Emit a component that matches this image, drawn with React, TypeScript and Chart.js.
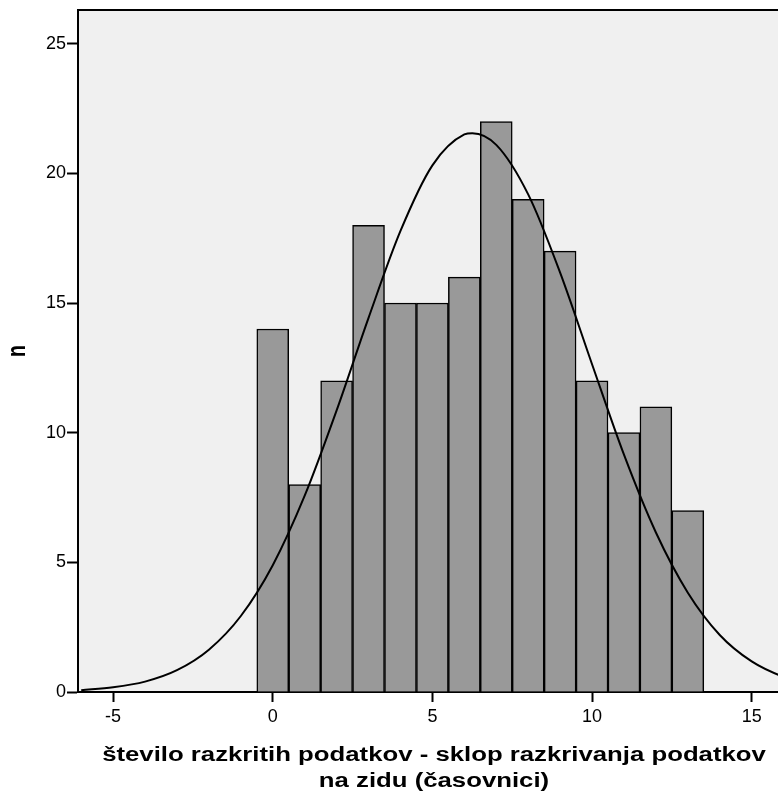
import React, { useEffect, useRef } from "react";
import { Chart, registerables } from "chart.js";

Chart.register(...registerables);

// Histogram bins (centres) and counts
const BIN_CENTERS = [0, 1, 2, 3, 4, 5, 6, 7, 8, 9, 10, 11, 12, 13];
const COUNTS = [14, 8, 12, 18, 15, 15, 16, 22, 19, 17, 12, 10, 11, 7];

// Normal curve overlay, sampled along the x axis
const CURVE_X = [-6, -5, -4, -3, -2, -1, 0, 1, 2, 3, 4, 5, 6, 6.25, 7, 8, 9, 10, 11, 12, 13, 14, 15, 16, 16.5];
const CURVE_Y = [0.07, 0.18, 0.4, 0.84, 1.63, 2.93, 4.89, 7.57, 10.86, 14.43, 17.78, 20.31, 21.5, 21.55, 21.1, 19.19, 16.17, 12.64, 9.15, 6.15, 3.83, 2.2, 1.18, 0.58, 0.4];

const X_TICKS = [-5, 0, 5, 10, 15];
const Y_TICKS = [0, 5, 10, 15, 20, 25];

const X_TITLE = ["število razkritih podatkov - sklop razkrivanja podatkov", "na zidu (časovnici)"];
const Y_TITLE = "n";

const FONT = "'Liberation Sans', Arial, Helvetica, sans-serif";
const TITLE_FONT = `bold 19.5px ${FONT}`;
const TITLE_STRETCH = 1.32; // axis titles are set wide

const plotFrame = {
  id: "plotFrame",
  beforeDraw(chart: any) {
    const { ctx, chartArea: a } = chart;
    ctx.save();
    ctx.fillStyle = "#f0f0f0";
    ctx.fillRect(a.left, a.top, a.right - a.left, a.bottom - a.top);
    ctx.restore();
  },
  afterDraw(chart: any) {
    const { ctx, chartArea: a } = chart;
    ctx.save();
    ctx.strokeStyle = "#000";
    ctx.lineWidth = 2;
    ctx.beginPath();
    ctx.moveTo(a.left - 1, a.top);
    ctx.lineTo(a.right, a.top);
    ctx.stroke();
    ctx.restore();

    // x-axis title, two centred lines under the tick labels
    const cx = (a.left + a.right) / 2;
    ctx.save();
    ctx.fillStyle = "#000";
    ctx.font = TITLE_FONT;
    ctx.textAlign = "center";
    ctx.textBaseline = "alphabetic";
    X_TITLE.forEach((line, i) => {
      ctx.save();
      ctx.translate(cx, a.bottom + 69 + i * 26);
      ctx.scale(TITLE_STRETCH, 1);
      ctx.fillText(line, 0, 0);
      ctx.restore();
    });
    ctx.restore();

    // y-axis title, rotated, centred on the plot height
    const cy = (a.top + a.bottom) / 2;
    ctx.save();
    ctx.fillStyle = "#000";
    ctx.font = TITLE_FONT;
    ctx.textAlign = "center";
    ctx.textBaseline = "middle";
    ctx.translate(18, cy);
    ctx.scale(TITLE_STRETCH, 1);
    ctx.rotate(-Math.PI / 2);
    ctx.fillText(Y_TITLE, 0, 0);
    ctx.restore();
  },
};

export default function App() {
  const ref = useRef<HTMLCanvasElement | null>(null);

  useEffect(() => {
    if (!ref.current) return;
    const chart = new Chart(ref.current, {
      type: "bar",
      data: {
        datasets: [
          {
            type: "line",
            data: CURVE_X.map((x, i) => ({ x, y: CURVE_Y[i] })),
            borderColor: "#000",
            borderWidth: 2,
            pointRadius: 0,
            cubicInterpolationMode: "monotone",
            fill: false,
            order: 0,
          } as any,
          {
            type: "bar",
            data: BIN_CENTERS.map((x, i) => ({ x, y: COUNTS[i] })),
            backgroundColor: "#999999",
            borderColor: "#000",
            borderWidth: 1.5,
            barPercentage: 1,
            categoryPercentage: 1,
            order: 1,
          } as any,
        ],
      },
      options: {
        animation: false,
        responsive: false,
        devicePixelRatio: 1,
        events: [],
        layout: { padding: { top: 10, left: 0, right: 0, bottom: 0 } },
        plugins: { legend: { display: false }, tooltip: { enabled: false } },
        scales: {
          x: {
            type: "linear",
            min: -6.1,
            max: 16.2,
            offset: false,
            afterBuildTicks: (s: any) => {
              s.ticks = X_TICKS.map((v) => ({ value: v }));
            },
            afterFit: (s: any) => {
              s.height = 101;
              s.paddingLeft = 0;
              s.paddingRight = 0;
            },
            ticks: {
              font: { family: FONT, size: 18 },
              color: "#000",
              padding: 4,
              maxRotation: 0,
            },
            grid: {
              display: true,
              drawOnChartArea: false,
              drawTicks: true,
              tickLength: 10,
              tickWidth: 2,
              tickColor: "#000",
              offset: false,
            },
            border: { display: true, color: "#000", width: 2 },
            title: { display: false },
          },
          y: {
            type: "linear",
            min: 0,
            max: 26.3,
            afterBuildTicks: (s: any) => {
              s.ticks = Y_TICKS.map((v) => ({ value: v }));
            },
            afterFit: (s: any) => {
              s.width = 78;
              s.paddingTop = 0;
              s.paddingBottom = 0;
            },
            ticks: {
              font: { family: FONT, size: 18 },
              color: "#000",
              padding: 1,
            },
            grid: {
              display: true,
              drawOnChartArea: false,
              drawTicks: true,
              tickLength: 11,
              tickWidth: 2,
              tickColor: "#000",
            },
            border: { display: true, color: "#000", width: 2 },
            title: { display: false },
          },
        },
      } as any,
      plugins: [plotFrame],
    });
    return () => chart.destroy();
  }, []);

  return (
    <div
      style={{
        position: "fixed",
        left: 0,
        top: 0,
        width: 778,
        height: 791,
        overflow: "hidden",
        background: "#fff",
      }}
    >
      <canvas ref={ref} width={790} height={793} style={{ display: "block" }} />
    </div>
  );
}
